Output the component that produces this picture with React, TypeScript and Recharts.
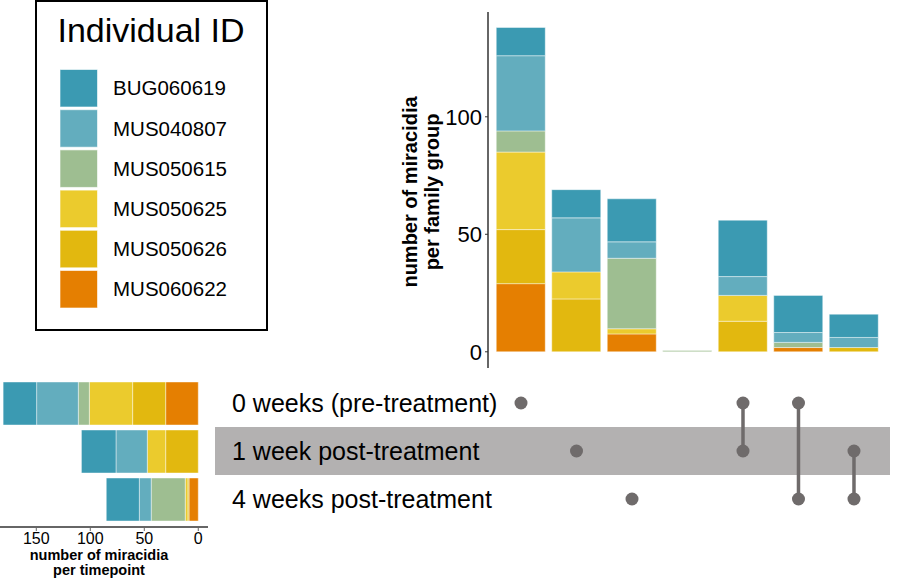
import React from 'react'
import { BarChart, Bar, XAxis, YAxis, ScatterChart, Scatter, ReferenceArea } from 'recharts'

const FONT = '"Liberation Sans", Arial, Helvetica, sans-serif'

const individuals = ['BUG060619', 'MUS040807', 'MUS050615', 'MUS050625', 'MUS050626', 'MUS060622']
const colors = ['#3b9ab2', '#63adbe', '#9ebe91', '#ebcb2d', '#e2b80f', '#e57f01']

const timepoints = ['0 weeks (pre-treatment)', '1 week post-treatment', '4 weeks post-treatment']

// family groups (upset columns) and the timepoints each one spans
const familyGroups = ['0w', '1w', '4w', 'none', '0w+1w', '0w+4w', '1w+4w']
const groupMembers = [[0], [1], [2], [], [0, 1], [0, 2], [1, 2]]

// miracidia per family group, one array per individual
const bugPerGroup = [12, 12, 18.3, 0, 24, 15.8, 9.9]
const mus040807PerGroup = [32, 23, 7, 0, 8, 4.2, 4.3]
const mus050615PerGroup = [9, 0, 30, 0.5, 0, 2.2, 0]
const mus050625PerGroup = [33, 11.5, 2.2, 0, 11, 0, 0]
const mus050626PerGroup = [23, 22.5, 0, 0, 13, 0, 1.8]
const mus060622PerGroup = [29, 0, 7.6, 0, 0, 1.8, 0]

// miracidia per timepoint, one array per individual
const bugPerTime = [31, 32, 30.6]
const mus040807PerTime = [38.6, 29, 11]
const mus050615PerTime = [10.2, 0, 31.5]
const mus050625PerTime = [40.1, 17, 2.5]
const mus050626PerTime = [30.6, 30.2, 1]
const mus060622PerTime = [30.2, 0, 8.6]

const perGroup = [bugPerGroup, mus040807PerGroup, mus050615PerGroup, mus050625PerGroup, mus050626PerGroup, mus060622PerGroup]
const perTime = [bugPerTime, mus040807PerTime, mus050615PerTime, mus050625PerTime, mus050626PerTime, mus060622PerTime]

const groupData = familyGroups.map((g, i) => {
  const row: Record<string, any> = { group: g }
  individuals.forEach((id, k) => { row[id] = perGroup[k][i] })
  return row
})

const timeData = timepoints.map((t, i) => {
  const row: Record<string, any> = { timepoint: t }
  individuals.forEach((id, k) => { row[id] = perTime[k][i] })
  return row
})

// stacking goes bottom-up, so the last individual is drawn first
const stackOrder = [5, 4, 3, 2, 1, 0]

const DOT = '#6f6b6b'
const AXIS = '#333333'

function Legend() {
  return (
    <svg width={280} height={340} style={{ position: 'absolute', left: 0, top: 0 }}>
      <rect x={36} y={1} width={231} height={329} fill="none" stroke="#000" strokeWidth={2} />
      <text x={151} y={42} textAnchor="middle" fontSize={34} fontFamily={FONT} fill="#000">Individual ID</text>
      {individuals.map((id, i) => (
        <g key={id}>
          <rect x={60} y={69.5 + i * 40.2} width={37.5} height={37.5} fill={colors[i]} stroke="#fff" strokeOpacity={0.6} />
          <text x={113} y={88 + i * 40.2} dy="0.36em" fontSize={20.5} fontFamily={FONT} fill="#000">{id}</text>
        </g>
      ))}
    </svg>
  )
}

export default function App() {
  return (
    <div style={{ position: 'absolute', left: 0, top: 0, width: 898, height: 582, background: '#fff', fontFamily: FONT }}>
      <Legend />

      {/* family group sizes */}
      <div style={{ position: 'absolute', left: 0, top: 0 }}>
        <BarChart width={898} height={380} data={groupData} margin={{ top: 12, right: 11, bottom: 12, left: 0 }}>
          <XAxis dataKey="group" height={0} tick={false} tickLine={false} axisLine={{ stroke: AXIS, strokeWidth: 1.5 }}
            padding={{ left: 5.25, right: 5.25 }} />
          <YAxis width={488} type="number" domain={[-6.9, 144.6]} allowDataOverflow ticks={[0, 50, 100]}
            tick={{ fontSize: 22, fill: '#000', fontFamily: FONT }} tickSize={3} tickMargin={3}
            tickLine={{ stroke: AXIS }} axisLine={{ stroke: AXIS, strokeWidth: 1.5 }}
            label={{
              content: () => (
                <g fontFamily={FONT} fontWeight="bold" fontSize={20} fill="#000">
                  <text transform="translate(417,192) rotate(-90)" textAnchor="middle">number of miracidia</text>
                  <text transform="translate(439,192) rotate(-90)" textAnchor="middle">per family group</text>
                </g>
              )
            }} />
          {stackOrder.map(k => (
            <Bar key={individuals[k]} dataKey={individuals[k]} stackId="a" fill={colors[k]} barSize={49}
              stroke="#ffffff" strokeOpacity={0.55} strokeWidth={0.8} isAnimationActive={false} />
          ))}
        </BarChart>
      </div>

      {/* membership matrix */}
      <div style={{ position: 'absolute', left: 0, top: 370 }}>
        <ScatterChart width={898} height={160} margin={{ top: 9, right: 8, bottom: 7, left: 0 }}>
          <ReferenceArea x1={-4.514} x2={7.649} y1={0.5} y2={1.5} fill="#b3b1b1" fillOpacity={1} stroke="none" ifOverflow="visible" />
          <XAxis type="number" dataKey="col" domain={[-4.514, 7.649]} allowDataOverflow hide />
          <YAxis type="number" dataKey="row" domain={[-0.5, 2.5]} reversed ticks={[0, 1, 2]} width={215}
            axisLine={false} tickLine={false} allowDataOverflow
            tick={(p: any) => (
              <text x={232} y={p.y} dy="0.36em" fontSize={25} fontFamily={FONT} fill="#000" textAnchor="start">
                {timepoints[p.payload.value]}
              </text>
            )} />
          {groupMembers.map((members, i) => members.length === 0 ? null : (
            <Scatter key={familyGroups[i]} data={members.map(r => ({ col: i + 1, row: r }))} fill={DOT}
              line={members.length > 1 ? { stroke: DOT, strokeWidth: 3.5 } : false}
              shape={(p: any) => <circle cx={p.cx} cy={p.cy} r={6.5} fill={DOT} />}
              isAnimationActive={false} />
          ))}
        </ScatterChart>
      </div>

      {/* timepoint sizes */}
      <div style={{ position: 'absolute', left: 0, top: 360 }}>
        <BarChart width={215} height={222} layout="vertical" data={timeData} margin={{ top: 15, right: 7, bottom: 0, left: 0 }}>
          <YAxis type="category" dataKey="timepoint" hide padding={{ top: 4, bottom: 4 }} />
          <XAxis type="number" domain={[-9, 183.6]} allowDataOverflow reversed ticks={[0, 50, 100, 150]} height={55}
            tick={{ fontSize: 16, fill: '#000', fontFamily: FONT }} tickSize={4} tickMargin={2}
            tickLine={{ stroke: '#666' }} axisLine={{ stroke: '#666', strokeWidth: 2 }}
            label={{
              content: () => (
                <g fontFamily={FONT} fontWeight="bold" fontSize={14.5} fill="#000" textAnchor="middle">
                  <text x={99} y={200}>number of miracidia</text>
                  <text x={99} y={215}>per timepoint</text>
                </g>
              )
            }} />
          {stackOrder.map(k => (
            <Bar key={individuals[k]} dataKey={individuals[k]} stackId="t" fill={colors[k]} barSize={43}
              stroke="#ffffff" strokeOpacity={0.55} strokeWidth={0.8} isAnimationActive={false} />
          ))}
        </BarChart>
      </div>
    </div>
  )
}
